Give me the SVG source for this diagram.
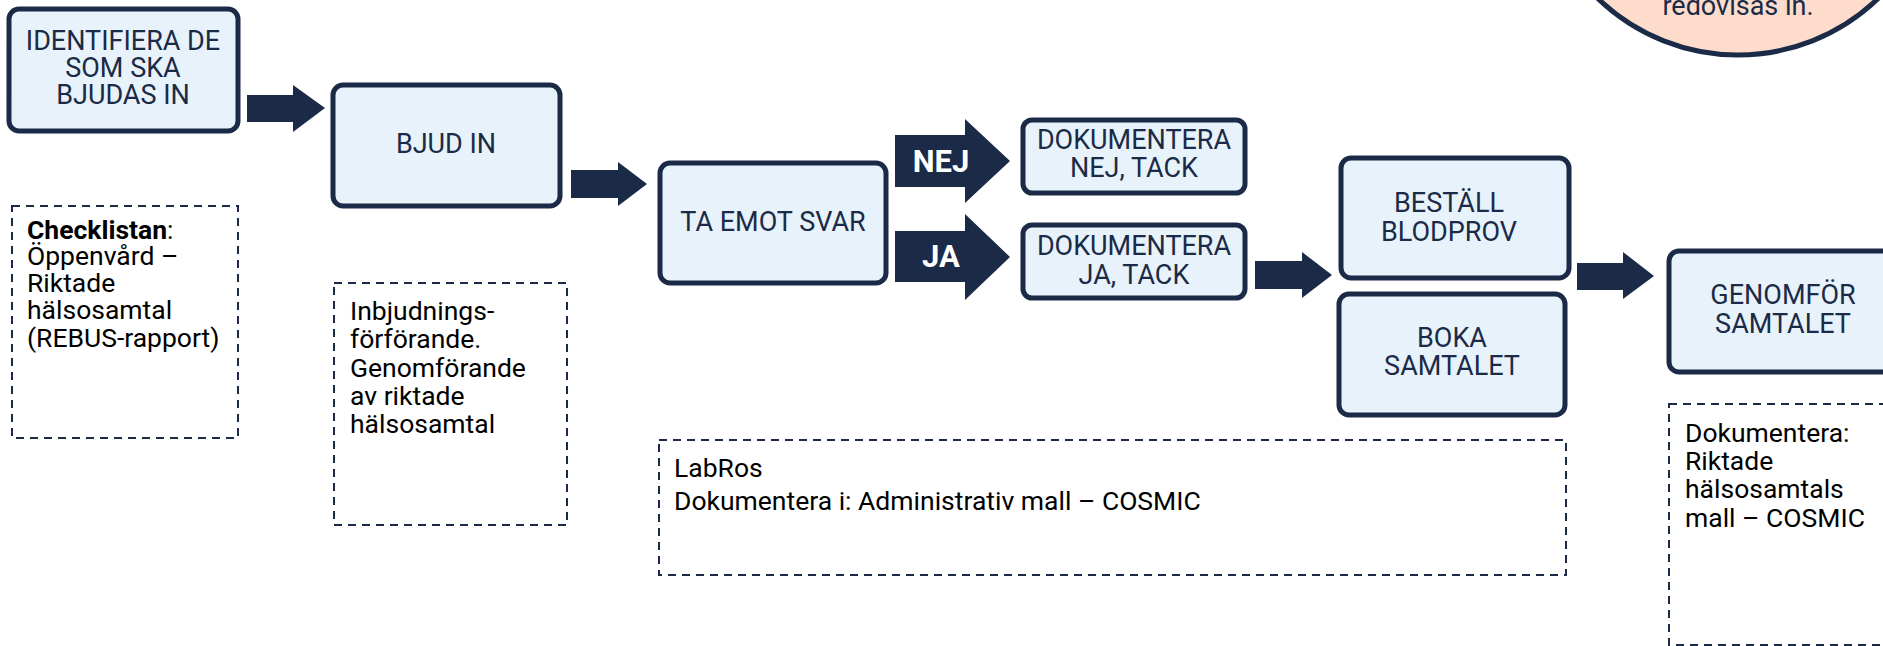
<svg xmlns="http://www.w3.org/2000/svg" width="1883" height="646" viewBox="0 0 1883 646">
<style>
.box{fill:#E7F2FA;stroke:#1B2A47;stroke-width:5}
.lbl{font-family:Roboto,"Liberation Sans",sans-serif;font-size:27px;fill:#1B2A47;text-anchor:middle}
.note{fill:none;stroke:#1B2A47;stroke-width:2;stroke-dasharray:8 6}
.nt{font-family:Roboto,"Liberation Sans",sans-serif;font-size:26.5px;fill:#000}
.arr{fill:#1B2A47}
.yn{font-family:Roboto,"Liberation Sans",sans-serif;font-size:31px;font-weight:bold;fill:#fff;text-anchor:middle}
</style>
<rect width="1883" height="646" fill="#fff"/>
<g id="circle">
<circle cx="1738" cy="-147" r="202" fill="#FDDCCB" stroke="#1B2A47" stroke-width="5"/>
<text class="lbl" x="1738" y="15">redovisas in.</text>
</g>
<g id="connectors">
<polygon class="arr" points="247,95 293,95 293,85 325,108 293,132 293,122 247,122"/>
<polygon class="arr" points="571,170 618,170 618,162 647,184 618,206 618,198 571,198"/>
<polygon class="arr" points="895,135 965,135 965,119 1010,161 965,203 965,187 895,187"/>
<text class="yn" x="941" y="172">NEJ</text>
<polygon class="arr" points="895,231 965,231 965,214 1010,257 965,300 965,282 895,282"/>
<text class="yn" x="941" y="267">JA</text>
<polygon class="arr" points="1255,261 1302,261 1302,252 1332,275 1302,298 1302,289 1255,289"/>
<polygon class="arr" points="1577,263 1623,263 1623,252 1654,276 1623,299 1623,290 1577,290"/>
</g>
<g id="n1">
<rect class="box" x="9" y="9" width="229" height="122" rx="10"/>
<text class="lbl" x="123" y="50">IDENTIFIERA DE</text>
<text class="lbl" x="123" y="77">SOM SKA</text>
<text class="lbl" x="123" y="104">BJUDAS IN</text>
</g>
<g id="n2">
<rect class="box" x="333" y="85" width="227" height="121" rx="10"/>
<text class="lbl" x="446" y="153">BJUD IN</text>
</g>
<g id="n3">
<rect class="box" x="660" y="163" width="226" height="120" rx="10"/>
<text class="lbl" x="773" y="231">TA EMOT SVAR</text>
</g>
<g id="n4">
<rect class="box" x="1023" y="120" width="222" height="73" rx="9"/>
<text class="lbl" x="1134" y="149">DOKUMENTERA</text>
<text class="lbl" x="1134" y="177">NEJ, TACK</text>
</g>
<g id="n5">
<rect class="box" x="1023" y="225" width="222" height="73" rx="9"/>
<text class="lbl" x="1134" y="255">DOKUMENTERA</text>
<text class="lbl" x="1134" y="284">JA, TACK</text>
</g>
<g id="n6">
<rect class="box" x="1341" y="158" width="228" height="120" rx="10"/>
<text class="lbl" x="1449" y="212">BESTÄLL</text>
<text class="lbl" x="1449" y="241">BLODPROV</text>
</g>
<g id="n7">
<rect class="box" x="1339" y="294" width="226" height="121" rx="10"/>
<text class="lbl" x="1452" y="347">BOKA</text>
<text class="lbl" x="1452" y="375">SAMTALET</text>
</g>
<g id="n8">
<rect class="box" x="1669" y="251" width="232" height="121" rx="10"/>
<text class="lbl" x="1783" y="304">GENOMFÖR</text>
<text class="lbl" x="1783" y="333">SAMTALET</text>
</g>
<g id="note1">
<rect class="note" x="12" y="206" width="226" height="232"/>
<text class="nt" x="27" y="239"><tspan font-weight="bold">Checklistan</tspan>:</text>
<text class="nt" x="27" y="265">Öppenvård –</text>
<text class="nt" x="27" y="292">Riktade</text>
<text class="nt" x="27" y="319">hälsosamtal</text>
<text class="nt" x="27" y="347">(REBUS-rapport)</text>
</g>
<g id="note2">
<rect class="note" x="334" y="283" width="233" height="242"/>
<text class="nt" x="350" y="320">Inbjudnings-</text>
<text class="nt" x="350" y="348">förförande.</text>
<text class="nt" x="350" y="377">Genomförande</text>
<text class="nt" x="350" y="405">av riktade</text>
<text class="nt" x="350" y="433">hälsosamtal</text>
</g>
<g id="note3">
<rect class="note" x="659" y="440" width="907" height="135"/>
<text class="nt" x="674" y="477">LabRos</text>
<text class="nt" x="674" y="510">Dokumentera i: Administrativ mall – COSMIC</text>
</g>
<g id="note4">
<rect class="note" x="1669" y="404" width="230" height="241"/>
<text class="nt" x="1685" y="442">Dokumentera:</text>
<text class="nt" x="1685" y="470">Riktade</text>
<text class="nt" x="1685" y="498">hälsosamtals</text>
<text class="nt" x="1685" y="527">mall – COSMIC</text>
</g>
</svg>
